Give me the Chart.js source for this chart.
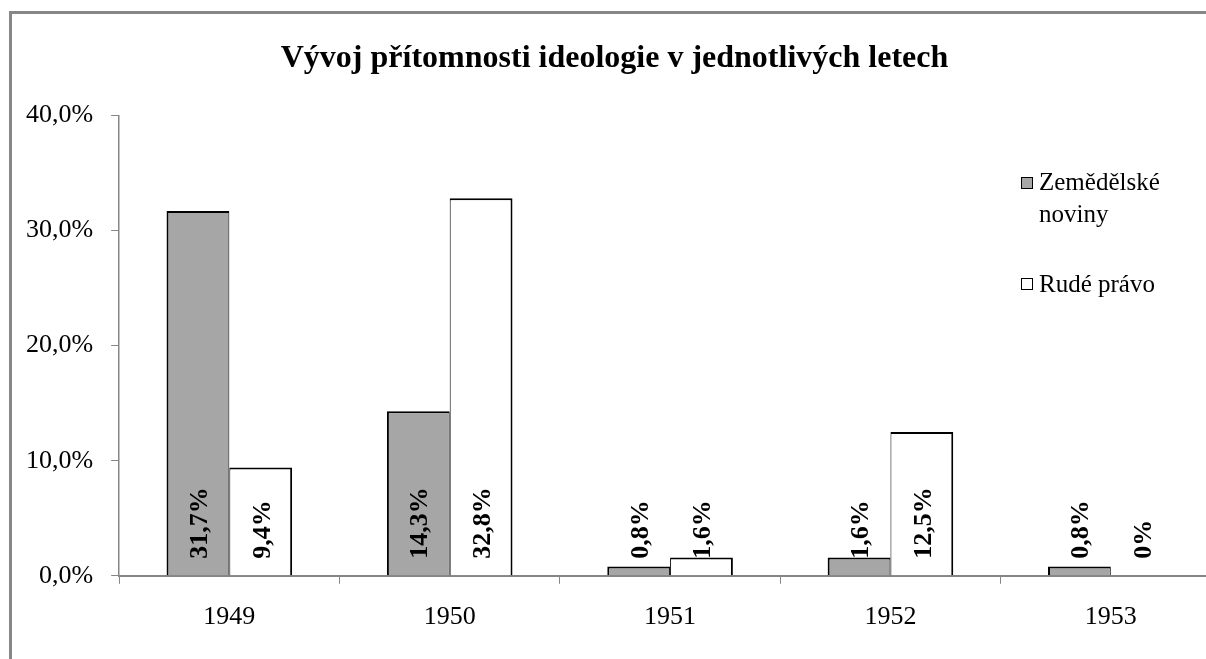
<!DOCTYPE html>
<html><head><meta charset="utf-8">
<script src="https://cdn.jsdelivr.net/npm/chart.js@4"></script>
<style>
html,body{margin:0;padding:0;overflow:hidden;background:#fff;width:1206px;height:659px;}
#frame{position:absolute;left:9px;top:11px;width:1300px;height:700px;border-left:3px solid #878787;border-top:3px solid #878787;}
#wrap{position:absolute;left:0;top:0;width:1230px;height:659px;}
.leg{position:absolute;font-family:'Liberation Serif','Times New Roman',serif;font-size:25px;line-height:32px;color:#000;white-space:nowrap;}
.sw{position:absolute;width:10px;height:10px;border:1px solid #000;}
</style></head>
<body>
<div id="frame"></div>
<div id="wrap"><canvas id="c" width="1230" height="659"></canvas></div>
<div class="sw" style="left:1021px;top:177px;background:#a6a6a6"></div>
<div class="leg" id="leg0" style="left:1039px;top:166px;">Zemědělské<br>noviny</div>
<div class="sw" style="left:1021px;top:278px;background:#fff"></div>
<div class="leg" id="leg1" style="left:1039px;top:268px;">Rudé právo</div>
<script>
const categories = ['1949', '1950', '1951', '1952', '1953'];
const seriesNames = ['Zemědělské noviny', 'Rudé právo'];
const zemedelske = [31.7, 14.3, 0.8, 1.6, 0.8];
const rudePravo = [9.4, 32.8, 1.6, 12.5, 0];
const zemedelskeLabels = ['31,7%', '14,3%', '0,8%', '1,6%', '0,8%'];
const rudePravoLabels = ['9,4%', '32,8%', '1,6%', '12,5%', '0%'];
const yTickLabels = ['0,0%', '10,0%', '20,0%', '30,0%', '40,0%'];
const titleText = 'Vývoj přítomnosti ideologie v jednotlivých letech';

const FONT = "'Liberation Serif', 'Times New Roman', serif";
const AXIS = '#868686';

const barLabels = {
  id: 'barLabels',
  afterDatasetsDraw(chart) {
    const ctx = chart.ctx;
    const y0 = chart.scales.y.getPixelForValue(0);
    const all = [zemedelskeLabels, rudePravoLabels];
    const fs = 26;
    ctx.save();
    ctx.font = 'bold ' + fs + 'px ' + FONT;
    ctx.fillStyle = '#000';
    ctx.textAlign = 'left';
    ctx.textBaseline = 'alphabetic';
    chart.data.datasets.forEach((ds, di) => {
      chart.getDatasetMeta(di).data.forEach((el, i) => {
        ctx.save();
        ctx.translate(el.x + fs * 0.34, y0 - 17);
        ctx.rotate(-Math.PI / 2);
        ctx.fillText(all[di][i], 0, 0);
        ctx.restore();
      });
    });
    ctx.restore();
  }
};

new Chart(document.getElementById('c'), {
  type: 'bar',
  data: {
    labels: categories,
    datasets: [
      { label: seriesNames[0], data: zemedelske, backgroundColor: '#a6a6a6', borderColor: '#000',
        borderWidth: { top: 2, left: 2, right: 1, bottom: 0 }, categoryPercentage: 0.57, barPercentage: 1 },
      { label: seriesNames[1], data: rudePravo, backgroundColor: '#ffffff', borderColor: '#000',
        borderWidth: { top: 2, left: 1, right: 2, bottom: 0 }, categoryPercentage: 0.57, barPercentage: 1 }
    ]
  },
  options: {
    responsive: false,
    animation: false,
    devicePixelRatio: 1,
    layout: { padding: { left: 8, right: 9, top: 0, bottom: 8 } },
    plugins: {
      legend: { display: false },
      tooltip: { enabled: false },
      title: {
        display: true, text: titleText, color: '#000',
        font: { family: FONT, size: 32, weight: 'bold' },
        padding: { top: 40, bottom: 37 }
      }
    },
    scales: {
      x: {
        grid: { offset: true, drawOnChartArea: false, drawTicks: true, tickLength: 8, color: AXIS, lineWidth: 1 },
        border: { color: AXIS, width: 2 },
        ticks: { color: '#000', font: { family: FONT, size: 26 }, padding: 18 }
      },
      y: {
        min: 0, max: 40,
        grid: { drawOnChartArea: false, drawTicks: true, tickLength: 8, color: AXIS, lineWidth: 1 },
        border: { color: AXIS, width: 1.5 },
        ticks: { stepSize: 10, color: '#000', font: { family: FONT, size: 26 }, padding: 18,
          callback: (v, i) => yTickLabels[i] }
      }
    }
  },
  plugins: [barLabels]
});
</script>
</body></html>
